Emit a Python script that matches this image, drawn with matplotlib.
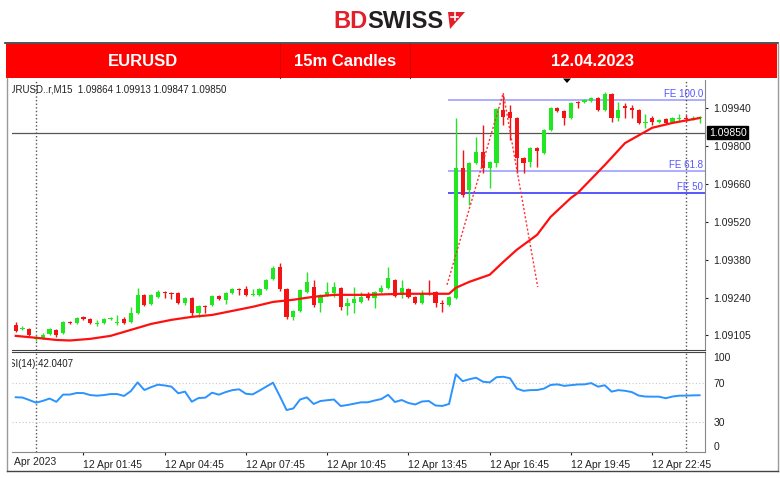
import numpy as np
import matplotlib
matplotlib.use('Agg')
import matplotlib.pyplot as plt
from matplotlib.patches import Rectangle, Polygon
from matplotlib.lines import Line2D
from matplotlib.transforms import Affine2D, Bbox, IdentityTransform, TransformedBbox, blended_transform_factory

plt.rcParams['font.family'] = ['Liberation Sans', 'DejaVu Sans']

# 15m candles, index 0 = 12 Apr 00:00
idx = np.arange(-3, 99)
opens = [1.09143, 1.09128, 1.09128, 1.09091, 1.09095, 1.09110, 1.09124, 1.09113, 1.09154, 1.09150,
         1.09172, 1.09165, 1.09146, 1.09150, 1.09165, 1.09150, 1.09165, 1.09154, 1.09187, 1.09253,
         1.09220, 1.09246, 1.09264, 1.09260, 1.09260, 1.09223, 1.09242, 1.09187, 1.09213, 1.09216,
         1.09249, 1.09235, 1.09260, 1.09275, 1.09275, 1.09253, 1.09253, 1.09275, 1.09312, 1.09356,
         1.09275, 1.09172, 1.09194, 1.09264, 1.09282, 1.09223, 1.09253, 1.09260, 1.09279, 1.09213,
         1.09223, 1.09227, 1.09253, 1.09242, 1.09264, 1.09279, 1.09308, 1.09253, 1.09275, 1.09246,
         1.09223, 1.09260, 1.09264, 1.09223, 1.09216, 1.09242, 1.09720, 1.09639, 1.09739, 1.09779,
         1.09720, 1.09739, 1.09934, 1.09926, 1.09904, 1.09757, 1.09742, 1.09794, 1.09775, 1.09860,
         1.09941, 1.09930, 1.09904, 1.09963, 1.09963, 1.09967, 1.09978, 1.09934, 1.09993, 1.09904,
         1.09949, 1.09941, 1.09934, 1.09886, 1.09904, 1.09890, 1.09901, 1.09890, 1.09901, 1.09904,
         1.09901, 1.09904]
highs = [1.09154, 1.09139, 1.09132, 1.09106, 1.09113, 1.09132, 1.09128, 1.09157, 1.09157, 1.09172,
         1.09176, 1.09168, 1.09161, 1.09168, 1.09172, 1.09179, 1.09172, 1.09209, 1.09279, 1.09257,
         1.09257, 1.09271, 1.09268, 1.09264, 1.09264, 1.09246, 1.09246, 1.09216, 1.09216, 1.09253,
         1.09253, 1.09264, 1.09279, 1.09279, 1.09286, 1.09275, 1.09279, 1.09312, 1.09360, 1.09371,
         1.09279, 1.09198, 1.09275, 1.09338, 1.09308, 1.09257, 1.09301, 1.09301, 1.09282, 1.09242,
         1.09282, 1.09264, 1.09264, 1.09268, 1.09290, 1.09356, 1.09312, 1.09308, 1.09279, 1.09249,
         1.09271, 1.09308, 1.09268, 1.09235, 1.09249, 1.09904, 1.09786, 1.09742, 1.09834, 1.09879,
         1.09746, 1.09941, 1.09989, 1.09952, 1.09908, 1.09761, 1.09798, 1.09798, 1.09864, 1.09945,
         1.09945, 1.09934, 1.09963, 1.09967, 1.09974, 1.09982, 1.09982, 1.10000, 1.09996, 1.09963,
         1.09960, 1.09952, 1.09938, 1.09919, 1.09912, 1.09901, 1.09904, 1.09908, 1.09919, 1.09915,
         1.09912, 1.09912]
lows = [1.09117, 1.09124, 1.09102, 1.09084, 1.09091, 1.09106, 1.09099, 1.09110, 1.09146, 1.09146,
        1.09161, 1.09146, 1.09139, 1.09146, 1.09161, 1.09143, 1.09146, 1.09150, 1.09183, 1.09213,
        1.09216, 1.09242, 1.09242, 1.09238, 1.09220, 1.09216, 1.09172, 1.09172, 1.09187, 1.09213,
        1.09235, 1.09220, 1.09257, 1.09253, 1.09249, 1.09249, 1.09249, 1.09271, 1.09308, 1.09268,
        1.09165, 1.09161, 1.09191, 1.09260, 1.09209, 1.09191, 1.09249, 1.09246, 1.09198, 1.09179,
        1.09187, 1.09223, 1.09235, 1.09205, 1.09260, 1.09275, 1.09246, 1.09242, 1.09242, 1.09220,
        1.09220, 1.09253, 1.09209, 1.09191, 1.09213, 1.09238, 1.09613, 1.09584, 1.09735, 1.09702,
        1.09647, 1.09724, 1.09879, 1.09823, 1.09702, 1.09702, 1.09724, 1.09724, 1.09772, 1.09857,
        1.09926, 1.09879, 1.09901, 1.09941, 1.09960, 1.09963, 1.09930, 1.09930, 1.09890, 1.09893,
        1.09904, 1.09904, 1.09882, 1.09868, 1.09879, 1.09886, 1.09882, 1.09886, 1.09893, 1.09893,
        1.09897, 1.09886]
closes = [1.09121, 1.09132, 1.09106, 1.09099, 1.09106, 1.09128, 1.09106, 1.09154, 1.09150, 1.09168,
          1.09165, 1.09150, 1.09150, 1.09165, 1.09168, 1.09154, 1.09150, 1.09187, 1.09253, 1.09216,
          1.09253, 1.09264, 1.09260, 1.09257, 1.09223, 1.09242, 1.09187, 1.09213, 1.09209, 1.09249,
          1.09238, 1.09260, 1.09275, 1.09271, 1.09253, 1.09257, 1.09275, 1.09308, 1.09352, 1.09275,
          1.09172, 1.09194, 1.09271, 1.09301, 1.09216, 1.09253, 1.09264, 1.09282, 1.09209, 1.09223,
          1.09238, 1.09246, 1.09242, 1.09264, 1.09279, 1.09315, 1.09249, 1.09279, 1.09246, 1.09223,
          1.09260, 1.09257, 1.09223, 1.09220, 1.09246, 1.09720, 1.09621, 1.09739, 1.09779, 1.09720,
          1.09742, 1.09938, 1.09908, 1.09904, 1.09757, 1.09739, 1.09794, 1.09783, 1.09860, 1.09941,
          1.09930, 1.09904, 1.09960, 1.09960, 1.09971, 1.09978, 1.09934, 1.09993, 1.09904, 1.09934,
          1.09941, 1.09934, 1.09886, 1.09890, 1.09890, 1.09897, 1.09886, 1.09904, 1.09904, 1.09901,
          1.09904, 1.09908]

# moving average (candle index, price)
ma_idx = [-3, 0, 3, 5, 8, 11, 14, 17, 20, 23, 26, 29, 32, 35, 38, 41, 44, 49, 54, 61,
          62, 64, 67, 69, 71, 74, 76, 79, 80, 84, 87, 91, 94, 98]
ma_val = [1.09102, 1.09095, 1.09087, 1.09085, 1.09091, 1.09102, 1.09124, 1.09146, 1.09161, 1.09172,
          1.09179, 1.09194, 1.09209, 1.09227, 1.09235, 1.09246, 1.09253, 1.09253, 1.09257, 1.09257,
          1.09279, 1.09301, 1.09327, 1.09374, 1.09419, 1.09474, 1.09540, 1.09610, 1.09628, 1.09731,
          1.09812, 1.09868, 1.09886, 1.09904]

rsi = [55.3, 55.0, 52.5, 49.8, 51.6, 54.0, 50.7, 58.0, 58.0, 59.6,
       59.5, 57.5, 56.9, 57.5, 58.5, 58.5, 56.6, 61.5, 70.3, 62.6,
       65.5, 68.0, 67.2, 66.0, 59.3, 61.0, 50.8, 54.5, 54.9, 59.9,
       57.9, 60.5, 62.5, 63.3, 58.8, 58.2, 62.0, 66.0, 70.0, 56.5,
       42.4, 44.0, 53.0, 55.2, 48.5, 51.5, 52.3, 53.0, 46.4, 47.5,
       48.8, 50.2, 50.2, 52.0, 53.5, 57.8, 50.5, 52.5, 49.5, 48.0,
       51.0, 51.5, 47.0, 46.5, 48.5, 78.4, 71.5, 73.5, 75.0, 71.0,
       70.3, 75.5, 76.0, 74.5, 64.0, 61.8, 62.5, 62.6, 64.0, 67.7,
       68.3, 66.8, 67.5, 68.2, 68.3, 69.6, 66.0, 67.4, 61.0, 62.5,
       61.8, 60.5, 57.0, 56.0, 55.9, 55.9, 54.3, 56.0, 56.9, 56.9,
       57.2, 57.3]

fe_wave_x = [60.7, 69.0, 74.1]
fe_wave_y = [1.09290, 1.09996, 1.09282]
fe_names = ['FE 100.0', 'FE 61.8', 'FE 50']
fe_prices = [1.09971, 1.09710, 1.09628]
fe_start = 60.9

bid = 1.09850
price_ticks = [1.09940, 1.09800, 1.09660, 1.09520, 1.09380, 1.09240, 1.09105]
rsi_ticks = [100, 70, 30, 0]
time_ticks = [7, 19, 31, 43, 55, 67, 79, 91]
time_labels = ['12 Apr 01:45', '12 Apr 04:45', '12 Apr 07:45', '12 Apr 10:45',
               '12 Apr 13:45', '12 Apr 16:45', '12 Apr 19:45', '12 Apr 22:45']
day_lines = [0, 96]

up_col = '#22e622'
down_col = '#f21414'

W, H = 780, 478
fig = plt.figure(figsize=(7.8, 4.78), dpi=100)
px = Affine2D().scale(1 / W, -1 / H).translate(0, 1) + fig.transFigure


def box(x0, y0, x1, y1):
    return [x0 / W, 1 - y1 / H, (x1 - x0) / W, (y1 - y0) / H]


ax = fig.add_axes(box(12, 80, 705, 350))
rax = fig.add_axes(box(12, 352, 705, 452), sharex=ax)

# candles
for i, o, h, l, c in zip(idx, opens, highs, lows, closes):
    col = up_col if c >= o else down_col
    ax.vlines(i, l, h, color=col, lw=1, zorder=2)
    if abs(c - o) < 2e-5:
        ax.hlines(c, i - 0.32, i + 0.32, color=col, lw=1.2, zorder=2)
    else:
        ax.bar(i, abs(c - o), bottom=min(o, c), width=0.62, color=col, lw=0, zorder=2)

ax.plot(ma_idx, ma_val, color='#ff1010', lw=1.6, zorder=3)
ax.plot(fe_wave_x, fe_wave_y, color='#ff3030', lw=1, ls=(0, (1.5, 1.5)), zorder=3)

trans = blended_transform_factory(ax.transAxes, ax.transData)
for name, p in zip(fe_names, fe_prices):
    col = '#3a3aff' if name == 'FE 50' else '#a0a0ff'
    ax.hlines(p, fe_start, 99, color=col, lw=1.2, zorder=1)
    ax.text(0.997, p + 0.00002, name, transform=trans, ha='right', va='bottom',
            fontsize=7, color='#5555ff', zorder=4)

ax.axhline(bid, color='#555555', lw=0.9, zorder=1)
for d in day_lines:
    ax.axvline(d, color='#555555', lw=1, ls=(0, (1, 1.6)), zorder=1)
    rax.axvline(d, color='#555555', lw=1, ls=(0, (1, 1.6)), zorder=1)

ax.set_xlim(-3.55, 98.8)
ax.set_ylim(1.09050, 1.10044)
ax.yaxis.tick_right()
ax.set_yticks(price_ticks)
ax.set_yticklabels([f'{v:.5f}' for v in price_ticks])
ax.tick_params(axis='y', length=2, pad=4, labelsize=7.5, colors='#222222')
ax.tick_params(axis='x', bottom=False, labelbottom=False)
for s in ['top', 'left']:
    ax.spines[s].set_visible(False)
ax.spines['bottom'].set_color('#444444')
ax.spines['right'].set_color('#888888')

ax.text(1.0 + 4 / 693, bid, f'{bid:.5f}', transform=trans, ha='left', va='center',
        fontsize=7.5, color='white', bbox=dict(boxstyle='square,pad=0.15', fc='black', ec='black'),
        clip_on=False)

ax.text(-10 / 693, 0.985, 'EURUSD..r,M15  1.09864 1.09913 1.09847 1.09850', transform=ax.transAxes,
        ha='left', va='top', fontsize=7, color='#222222', clip_on=True)

# RSI panel
rax.plot(idx, rsi, color='#2a93ff', lw=1.4, zorder=3)
rax.axhline(70, color='#c8c8c8', lw=0.8, ls=(0, (1, 2)))
rax.axhline(30, color='#c8c8c8', lw=0.8, ls=(0, (1, 2)))
rax.set_ylim(0, 101)
rax.yaxis.tick_right()
rax.set_yticks(rsi_ticks)
rax.set_yticklabels([str(v) for v in rsi_ticks])
rax.tick_params(axis='y', length=0, pad=6, labelsize=7.5, colors='#222222')
yl = rax.get_yticklabels()
yl[0].set_va('top')
yl[-1].set_va('bottom')
rax.set_xticks(time_ticks)
rax.set_xticklabels(time_labels, ha='left')
rax.tick_params(axis='x', length=2, pad=4, labelsize=7.5, colors='#222222')
rax.spines['left'].set_visible(False)
rax.spines['top'].set_color('#444444')
rax.spines['bottom'].set_color('#888888')
rax.spines['right'].set_color('#888888')
rax.text(-10 / 693, 0.93, 'RSI(14) 42.0407', transform=rax.transAxes, ha='left', va='top',
         fontsize=7, color='#222222', clip_on=True)

t = fig.text(0.5, 462, '12 Apr 2023', transform=px, ha='left', va='center', fontsize=7.5, color='#222222')
t.set_clip_box(TransformedBbox(Bbox.from_extents(12, 0, W, H), IdentityTransform()))
t.set_clip_on(True)

# header
fig.add_artist(Line2D([5, 778], [43.5, 43.5], transform=px, color='#333333', lw=1.2))
fig.add_artist(Rectangle((6, 44), 771, 34, transform=px, color='#ff0000', lw=0))
for x in [280, 410]:
    fig.add_artist(Line2D([x, x], [44, 78], transform=px, color='#d40000', lw=0.8))
head = [('EURUSD', 143), ('15m Candles', 345), ('12.04.2023', 592)]
for txt, x in head:
    fig.text(x, 61.5, txt, transform=px, ha='center', va='center', fontsize=12,
             fontweight='bold', color='white')
fig.add_artist(Polygon([(563, 78.5), (571, 78.5), (567, 83)], closed=True, transform=px,
                       color='black', lw=0))

# frame
fig.add_artist(Line2D([7, 7], [78, 471], transform=px, color='#9a9a9a', lw=1))
fig.add_artist(Line2D([778, 778], [44, 471], transform=px, color='#9a9a9a', lw=1))
fig.add_artist(Line2D([7, 778], [471, 471], transform=px, color='#444444', lw=1))

# logo
fig.text(368, 21, 'BD', transform=px, ha='right', va='center', fontsize=17,
         fontweight='bold', color='#e3202a')
fig.text(367, 21, 'SWISS', transform=px, ha='left', va='center', fontsize=17,
         fontweight='bold', color='#231f20')
fig.add_artist(Polygon([(448, 12), (465, 12), (450, 29)], closed=True, transform=px,
                       color='#e3202a', lw=0))
fig.add_artist(Line2D([451, 458], [17, 17], transform=px, color='white', lw=1.2))
fig.add_artist(Line2D([454.5, 454.5], [13.5, 20.5], transform=px, color='white', lw=1.2))

fig.savefig('out.png', dpi=100)
